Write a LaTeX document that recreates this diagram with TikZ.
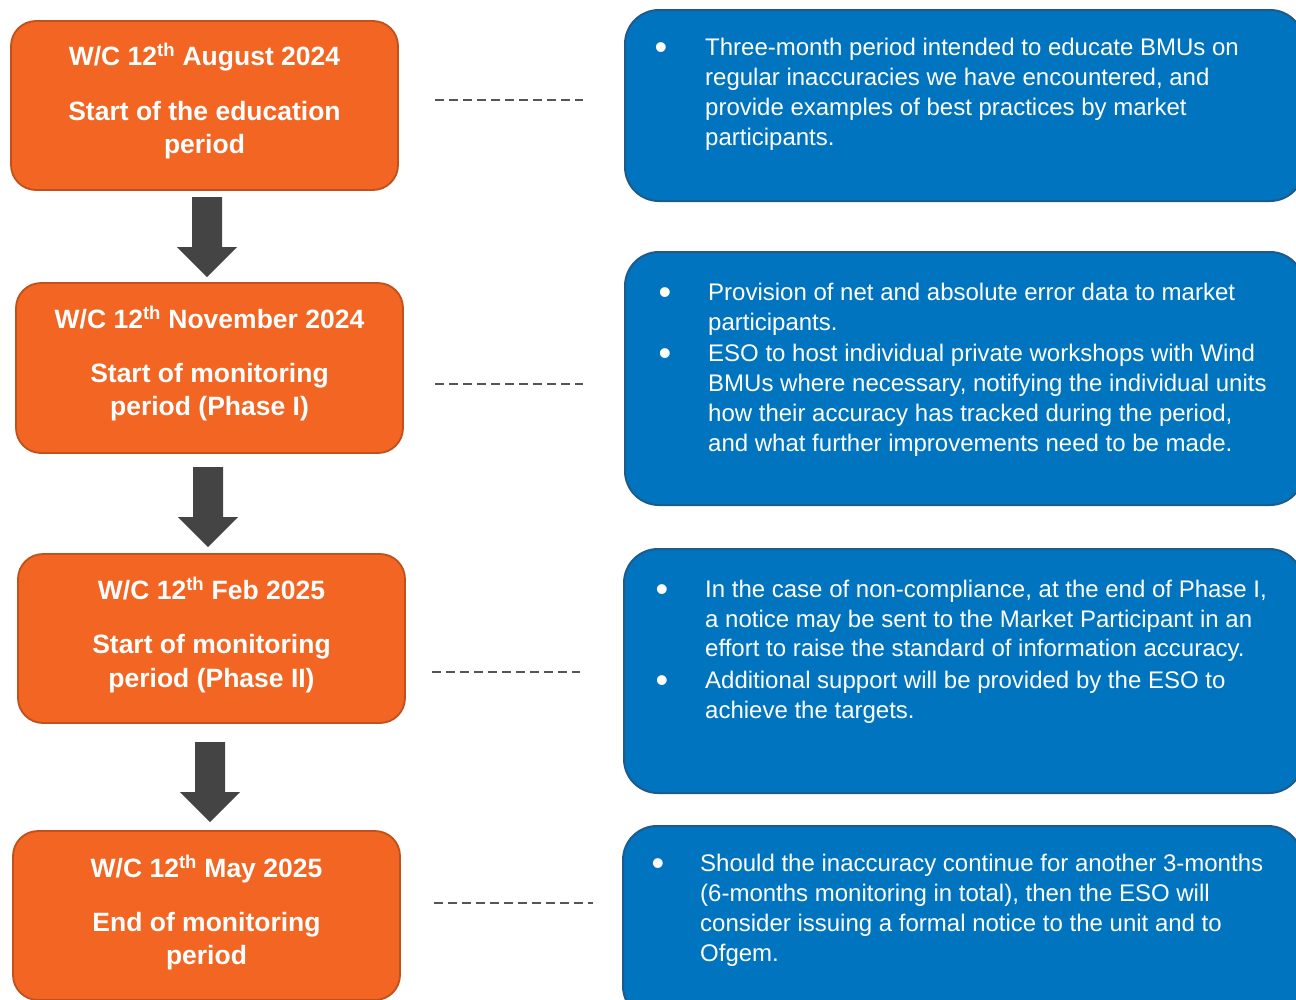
\documentclass[tikz,border=0pt]{standalone}
\usepackage{fontspec}
\setmainfont{Liberation Sans}
\definecolor{orfill}{HTML}{F26522}
\definecolor{ordraw}{HTML}{C0501C}
\definecolor{blfill}{HTML}{0074BF}
\definecolor{bldraw}{HTML}{1F5A8C}
\definecolor{arrgray}{HTML}{444444}
\definecolor{dashgray}{HTML}{555555}
\tikzset{
  obox/.style={draw=ordraw, line width=1.8pt, fill=orfill, rounded corners=25pt, minimum width=387pt, inner sep=0pt},
  bbox/.style={draw=bldraw, line width=2pt, fill=blfill, rounded corners=34pt, minimum width=679pt, inner sep=0pt},
  otxt/.style={text=white, font=\fontsize{26.5}{33}\selectfont\bfseries, inner sep=0pt, anchor=base},
  btxt/.style={text=white, font=\fontsize{24}{30}\selectfont, inner sep=0pt, anchor=base west},
  bul/.style={text=white, font=\fontsize{36}{36}\selectfont, inner sep=0pt, anchor=base, yshift=-4.7pt},
  dashline/.style={draw=dashgray, line width=2.2pt, dash pattern=on 8.5pt off 5.5pt},
  downarrow/.pic={\fill[arrgray] (-15,0) -- (15,0) -- (15,50) -- (30,50) -- (0,80) -- (-30,50) -- (-15,50) -- cycle;}
}
\begin{document}
\begin{tikzpicture}[x=1pt,y=-1pt]
\useasboundingbox (0,0) rectangle (1296,999);
\clip (0,0) rectangle (1296,999);
\fill[white] (0,0) rectangle (1296,999);

% orange boxes
\node[obox, minimum height=169pt] (o1) at (204.5,105.5) {};
\node[obox, minimum height=170pt] (o2) at (209.5,368) {};
\node[obox, minimum height=169pt] (o3) at (211.5,638.5) {};
\node[obox, minimum height=169pt] (o4) at (206.5,915.5) {};

\node[otxt] (o1a) at (204.5,65.5) {W/C 12\textsuperscript{th} August 2024};
\node[otxt] (o1b) at (204.5,120.5) {Start of the education};
\node[otxt] (o1c) at (204.5,153.5) {period};

\node[otxt] (o2a) at (209.5,328.5) {W/C 12\textsuperscript{th} November 2024};
\node[otxt] (o2b) at (209.5,382.5) {Start of monitoring};
\node[otxt] (o2c) at (209.5,415.5) {period (Phase I)};

\node[otxt] (o3a) at (211.5,599.5) {W/C 12\textsuperscript{th} Feb 2025};
\node[otxt] (o3b) at (211.5,653.5) {Start of monitoring};
\node[otxt] (o3c) at (211.5,687.5) {period (Phase II)};

\node[otxt] (o4a) at (206.5,877.5) {W/C 12\textsuperscript{th} May 2025};
\node[otxt] (o4b) at (206.5,931.5) {End of monitoring};
\node[otxt] (o4c) at (206.5,964.5) {period};

% block arrows
\pic at (207,197) {downarrow};
\pic at (208,467) {downarrow};
\pic at (210,742) {downarrow};

% dashed connectors
\coordinate (d1a) at (435,100); \coordinate (d1b) at (583,100);
\coordinate (d2a) at (435,384); \coordinate (d2b) at (583,384);
\coordinate (d3a) at (432,672); \coordinate (d3b) at (580,672);
\coordinate (d4a) at (434,903); \coordinate (d4b) at (593,903);
\draw[dashline] (d1a) -- (d1b);
\draw[dashline] (d2a) -- (d2b);
\draw[dashline] (d3a) -- (d3b);
\draw[dashline] (d4a) -- (d4b);

% blue boxes
\node[bbox, minimum height=191pt] (b1) at (964.5,105.5) {};
\node[bbox, minimum height=253pt] (b2) at (964.5,378.5) {};
\node[bbox, minimum height=244pt] (b3) at (963.5,671) {};
\node[bbox, minimum height=194pt] (b4) at (962.5,923) {};

% box 1 text
\node[bul] (b1u1) at (661,55) {•};
\node[btxt] (b1l1) at (705,55) {Three-month period intended to educate BMUs on};
\node[btxt] (b1l2) at (705,85) {regular inaccuracies we have encountered, and};
\node[btxt] (b1l3) at (705,115) {provide examples of best practices by market};
\node[btxt] (b1l4) at (705,145) {participants.};

% box 2 text
\node[bul] (b2u1) at (665,300) {•};
\node[btxt] (b2l1) at (708,300) {Provision of net and absolute error data to market};
\node[btxt] (b2l2) at (708,330) {participants.};
\node[bul] (b2u2) at (665,361) {•};
\node[btxt] (b2l3) at (708,361) {ESO to host individual private workshops with Wind};
\node[btxt] (b2l4) at (708,391) {BMUs where necessary, notifying the individual units};
\node[btxt] (b2l5) at (708,421) {how their accuracy has tracked during the period,};
\node[btxt] (b2l6) at (708,451) {and what further improvements need to be made.};

% box 3 text
\node[bul] (b3u1) at (662,597) {•};
\node[btxt] (b3l1) at (705,597) {In the case of non-compliance, at the end of Phase I,};
\node[btxt] (b3l2) at (705,627) {a notice may be sent to the Market Participant in an};
\node[btxt] (b3l3) at (705,656) {effort to raise the standard of information accuracy.};
\node[bul] (b3u2) at (662,688) {•};
\node[btxt] (b3l4) at (705,688) {Additional support will be provided by the ESO to};
\node[btxt] (b3l5) at (705,718) {achieve the targets.};

% box 4 text
\node[bul] (b4u1) at (658,871) {•};
\node[btxt] (b4l1) at (700,871) {Should the inaccuracy continue for another 3-months};
\node[btxt] (b4l2) at (700,901) {(6-months monitoring in total), then the ESO will};
\node[btxt] (b4l3) at (700,931) {consider issuing a formal notice to the unit and to};
\node[btxt] (b4l4) at (700,961) {Ofgem.};
\end{tikzpicture}
\end{document}
